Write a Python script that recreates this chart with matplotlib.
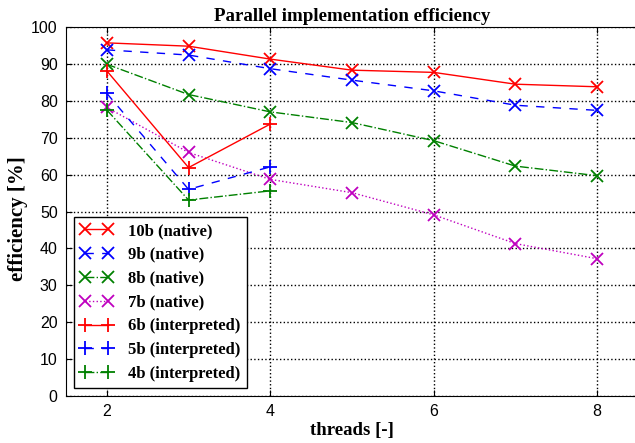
import matplotlib
matplotlib.use("Agg")
import matplotlib.pyplot as plt

threads_native = [2, 3, 4, 5, 6, 7, 8]
threads_interp = [2, 3, 4]
eff_10b = [95.7, 94.8, 91.3, 88.3, 87.7, 84.5, 83.8]
eff_9b = [93.8, 92.4, 88.7, 85.6, 82.7, 78.8, 77.4]
eff_8b = [89.9, 81.7, 77.0, 74.1, 69.2, 62.3, 59.7]
eff_7b = [78.2, 66.0, 58.7, 55.1, 49.1, 41.3, 37.2]
eff_6b = [88.1, 61.9, 73.7]
eff_5b = [82.0, 56.0, 62.1]
eff_4b = [77.5, 53.1, 55.6]

x_ticks = [2, 4, 6, 8]
y_ticks = list(range(0, 101, 10))

serif = ["Liberation Serif", "DejaVu Serif"]
sans = ["Liberation Sans", "DejaVu Sans"]

fig = plt.figure(figsize=(6.35, 4.43), dpi=100)
ax = fig.add_axes([66/635, 1-396/443, (638-66)/635, (396-27)/443])

green = (0, 0.5, 0)
ms = 9
mew = 1.3
lw = 1.0
ax.plot(threads_native, eff_10b, color='r', ls='-', marker='x', ms=ms, mew=mew, lw=lw, label='10b (native)')
ax.plot(threads_native, eff_9b, color='b', ls='--', dashes=(6, 6), marker='x', ms=ms, mew=mew, lw=lw, label='9b (native)')
ax.plot(threads_native, eff_8b, color=green, ls='-.', marker='x', ms=ms, mew=mew, lw=lw, label='8b (native)')
ax.plot(threads_native, eff_7b, color='m', ls=':', marker='x', ms=ms, mew=mew, lw=lw, label='7b (native)')
ax.plot(threads_interp, eff_6b, color='r', ls='-', marker='+', ms=ms+1, mew=mew, lw=lw, label='6b (interpreted)')
ax.plot(threads_interp, eff_5b, color='b', ls='--', dashes=(6, 6), marker='+', ms=ms+1, mew=mew, lw=lw, label='5b (interpreted)')
ax.plot(threads_interp, eff_4b, color=green, ls='-.', marker='+', ms=ms+1, mew=mew, lw=lw, label='4b (interpreted)')

ax.set_xlim(1.5, 8.5)
ax.set_ylim(0, 100)
ax.set_xticks(x_ticks)
ax.set_yticks(y_ticks)
ax.tick_params(direction='in', length=4, labelsize=11.5, pad=6, top=True, right=True)
for lab in ax.get_xticklabels() + ax.get_yticklabels():
    lab.set_family(sans)
ax.grid(True, color='black', ls=':', lw=1.0)

ax.set_title('Parallel implementation efficiency', family=serif, weight='bold', fontsize=13.6, pad=4)
ax.set_xlabel('threads [-]', family=serif, weight='bold', fontsize=13.5, labelpad=2)
ax.set_ylabel('efficiency [%]', family=serif, weight='bold', fontsize=15)
ax.yaxis.set_label_coords(-0.066, 0.48)

leg = ax.legend(loc='lower left', numpoints=2, prop={'family': serif, 'weight': 'bold', 'size': 12},
                fancybox=False, framealpha=1, edgecolor='black', handlelength=2.0,
                borderaxespad=0.48, borderpad=0.36, labelspacing=0.47, handletextpad=0.9)
leg.get_frame().set_linewidth(1.0)

fig.savefig('out.png', dpi=100)
